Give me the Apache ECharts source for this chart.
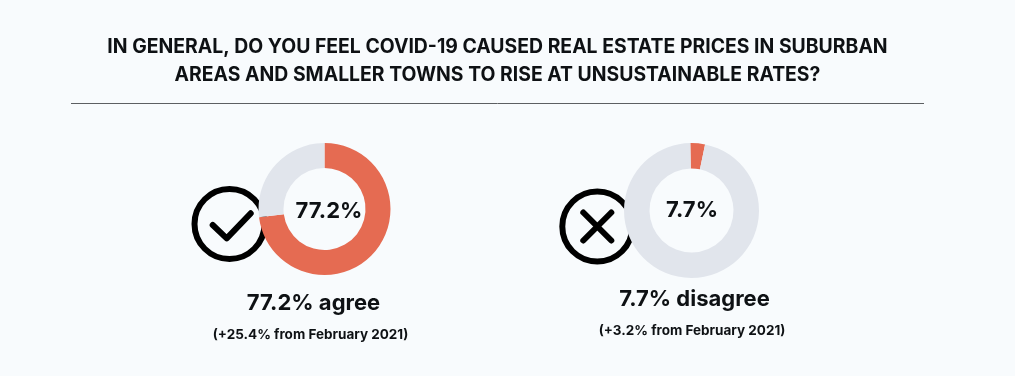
<!DOCTYPE html>
<html>
<head>
<meta charset="utf-8">
<style>
html,body{margin:0;padding:0;background:#f8fbfd;}
#main{width:1015px;height:376px;}
</style>
<script src="https://cdn.jsdelivr.net/npm/echarts@6/dist/echarts.min.js"></script>
</head>
<body>
<div id="main"></div>
<script>
var titleLines = ['IN GENERAL, DO YOU FEEL COVID-19 CAUSED REAL ESTATE PRICES IN SUBURBAN', 'AREAS AND SMALLER TOWNS TO RISE AT UNSUSTAINABLE RATES?']
var sliceNames = ['Share', 'Rest']
var agreeSlices = [73, 27]
var disagreeSlices = [3.5, 96.5]
var centerLabels = ['77.2%', '7.7%']
var headlines = ['77.2% agree', '7.7% disagree']
var changes = ['(+25.4% from February 2021)', '(+3.2% from February 2021)']

var font = 'Inter'
var bg = '#f8fbfd'
var red = '#e56b52'
var grey = '#e1e5ec'
var ink = '#0e1114'

function ring(values, cx, cy, outer, inner, start) {
  return {
    type: 'pie',
    center: [cx, cy],
    radius: [inner, outer],
    startAngle: start,
    clockwise: true,
    silent: true,
    animation: false,
    labelLine: { show: false },
    label: { show: false },
    data: [
      { name: sliceNames[0], value: values[0], itemStyle: { color: red } },
      { name: sliceNames[1], value: values[1], itemStyle: { color: grey } }
    ]
  }
}

function text(str, x, y, size, weight) {
  return {
    type: 'text', x: x, y: y, z: 20,
    style: { text: str, fill: ink, font: weight + ' ' + size + 'px ' + font, align: 'center', verticalAlign: 'middle' }
  }
}

function badge(cx, cy, mark) {
  return {
    type: 'group', x: cx, y: cy, z: 10,
    children: [
      { type: 'circle', shape: { r: 35 }, style: { fill: bg, stroke: '#000', lineWidth: 6 } }
    ].concat(mark)
  }
}

var markStyle = { fill: 'none', stroke: '#000', lineWidth: 6, lineCap: 'round', lineJoin: 'round' }

var chart = echarts.init(document.getElementById('main'))
chart.setOption({
  backgroundColor: bg,
  series: [
    ring(agreeSlices, 324.5, 209, 66, 41, 90),
    ring(disagreeSlices, 691.5, 210.5, 67.5, 42, 91)
  ],
  graphic: [
    text(titleLines[0], 497.5, 47, 19.4, 700),
    text(titleLines[1], 497.5, 75, 19.4, 700),
    { type: 'line', shape: { x1: 71, y1: 103.5, x2: 924, y2: 103.5 }, style: { stroke: '#5c5f62', lineWidth: 1 } },
    badge(229.5, 224, [{ type: 'polyline', shape: { points: [[-16.8, 1], [-2.8, 14.3], [21.2, -10.7]] }, style: markStyle }]),
    badge(597.3, 226.5, [
      { type: 'line', shape: { x1: -14, y1: -14, x2: 14, y2: 14 }, style: markStyle },
      { type: 'line', shape: { x1: 14, y1: -14, x2: -14, y2: 14 }, style: markStyle }
    ]),
    text(centerLabels[0], 329, 211, 22, 700),
    text(centerLabels[1], 692, 210.5, 22, 700),
    text(headlines[0], 313.5, 303, 22, 700),
    text(headlines[1], 694.5, 299, 22, 700),
    text(changes[0], 310.5, 334.5, 13.5, 700),
    text(changes[1], 692, 330.5, 13.5, 700)
  ]
})
</script>
</body>
</html>
